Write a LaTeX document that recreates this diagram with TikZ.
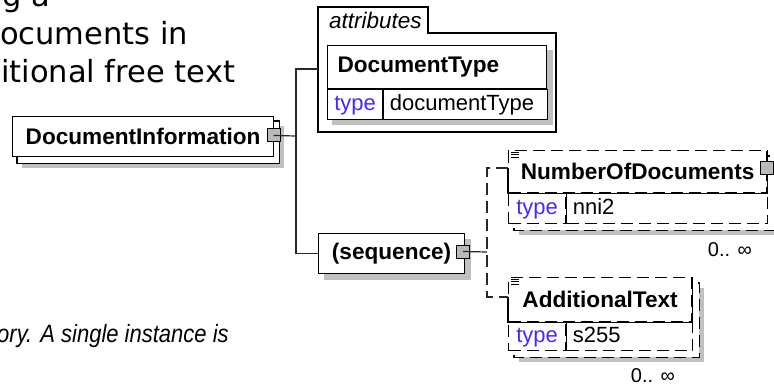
\documentclass[tikz,border=0pt]{standalone}
\usepackage{fontspec}
\setmainfont{Liberation Sans}
\newfontfamily\prosefamily{DejaVu Sans}
\usetikzlibrary{positioning,backgrounds,calc}

\definecolor{typeblue}{RGB}{70,40,255}
\definecolor{shadegray}{RGB}{192,192,192}
\definecolor{linegray}{RGB}{40,40,40}

\begin{document}
\begin{tikzpicture}[x=1pt,y=-1pt,
  box/.style={draw, fill=white, line width=1.2pt, inner sep=0pt, anchor=north west},
  optbox/.style={box, dash pattern=on 12pt off 6pt},
  toggle/.style={draw, fill=gray!55, line width=1pt, minimum size=13pt, inner sep=0pt},
  conn/.style={draw=linegray, line width=1.2pt},
  optconn/.style={conn, dash pattern=on 12pt off 6pt},
  solid edge/.style={line width=1.2pt},
  elemfont/.style={font=\bfseries\fontsize{22.6}{26}\selectfont},
  cellfont/.style={font=\fontsize{22}{26}\selectfont, text height=16pt, text depth=5pt, align=left},
  multfont/.style={font=\fontsize{20}{24}\selectfont, anchor=east, inner sep=0pt},
  prose/.style={font=\prosefamily\fontsize{30.5}{38}\selectfont, anchor=base west, inner sep=0pt}
]
  \useasboundingbox (0,0) rectangle (774,385);
  \clip (0,0) rectangle (774,385);

  % text of the page round the diagram
  \node[prose] (prose1) at (2,7) {g a};
  \node[prose] (prose2) at (0,45) {ocuments in};
  \node[prose] (prose3) at (1,83) {itional free text};
  \node[font=\itshape\fontsize{25}{30}\selectfont, anchor=base west, inner sep=0pt] (prose4) at (-3,342)
    {\scalebox{0.88}[1]{ory. A single instance is}};

  % root element
  \node[box, elemfont, minimum width=261pt, minimum height=40pt] (docinfo) at (12,116) {DocumentInformation};
  \node[toggle] (dicon) at (273.5,135.5) {};
  \begin{scope}[on background layer]
    \fill[shadegray] ($(docinfo.north west)+(10,10)$) rectangle ($(docinfo.south east)+(10,11)$);
    \draw[line width=1.2pt, fill=white] ($(docinfo.north west)+(5,5)$) rectangle ($(docinfo.south east)+(5,6)$);
  \end{scope}

  % attributes group
  \draw[solid edge] (318,132) -- (318,7) -- (428,7) -- (428,33) -- (556,33) -- (556,132) -- cycle;
  \node[font=\itshape\fontsize{22.5}{26}\selectfont, anchor=base west, inner sep=0pt] (attrlbl) at (329,29) {attributes};
  \coordinate (attrin) at (318,69);

  \node[box, elemfont, minimum height=43pt, text width=199pt, inner xsep=10pt, align=left] (doctype) at (327,45) {DocumentType};
  \node[box, cellfont, text=typeblue, minimum width=55pt, minimum height=30pt] (dttype) at (doctype.south west) {type};
  \node[box, cellfont, minimum height=30pt, text width=152pt, inner xsep=6pt] (dtvalue) at (dttype.north east) {documentType};
  \begin{scope}[on background layer]
    \fill[shadegray] ($(doctype.north west)+(5,5)$) rectangle ($(dtvalue.south east)+(5,5)$);
  \end{scope}

  % sequence
  \node[box, elemfont, minimum width=146pt, minimum height=40pt] (seq) at (318,233) {(sequence)};
  \node[toggle] (seqicon) at (463,251.5) {};
  \begin{scope}[on background layer]
    \fill[shadegray] ($(seq.north west)+(6,6)$) rectangle ($(seq.south east)+(6,6)$);
  \end{scope}

  % NumberOfDocuments
  \node[optbox, elemfont, minimum width=258pt, minimum height=42pt] (numdocs) at (508,150) {NumberOfDocuments};
  \node[optbox, cellfont, text=typeblue, minimum width=57pt, minimum height=30pt] (ndtype) at (numdocs.south west) {type};
  \node[optbox, cellfont, minimum height=30pt, text width=189pt, inner xsep=6pt] (ndvalue) at (ndtype.north east) {nni2};
  \begin{scope}[on background layer]
    \fill[shadegray] ($(numdocs.north west)+(11,11)$) rectangle ($(ndvalue.south east)+(11,11)$);
    \draw[line width=1.2pt, fill=white, dash pattern=on 12pt off 6pt] ($(numdocs.north west)+(6,6)$) rectangle ($(ndvalue.south east)+(6,6)$);
  \end{scope}
  \coordinate (nodin) at (508,168);
  \draw[solid edge] (nodin) -- (numdocs.south west) -- (numdocs.south east) -- (numdocs.north east);
  \draw[solid edge] (ndtype.north east) -- (ndtype.south east);
  \foreach \dy in {0,2.5,5}
    \draw[line width=0.7pt] ($(numdocs.north west)+(3,2+\dy)$) -- +(8,0);
  \node[toggle] (ndicon) at (766.5,168.5) {};
  \node[multfont] (ndmult) at (752,250) {0.. ∞};

  % AdditionalText
  \node[optbox, elemfont, minimum width=183pt, minimum height=44pt] (addtext) at (508,277) {AdditionalText};
  \node[optbox, cellfont, text=typeblue, minimum width=57pt, minimum height=28pt] (attype) at (addtext.south west) {type};
  \node[optbox, cellfont, minimum height=28pt, text width=114pt, inner xsep=6pt] (atvalue) at (attype.north east) {s255};
  \begin{scope}[on background layer]
    \fill[shadegray] ($(addtext.north west)+(11,11)$) rectangle ($(atvalue.south east)+(11,11)$);
    \draw[line width=1.2pt, fill=white, dash pattern=on 12pt off 6pt] ($(addtext.north west)+(6,6)$) rectangle ($(atvalue.south east)+(6,6)$);
  \end{scope}
  \coordinate (atin) at (508,297);
  \draw[solid edge] (atin) -- (addtext.south west) -- (addtext.south east) -- (addtext.north east);
  \draw[solid edge] (attype.north east) -- (attype.south east);
  \foreach \dy in {0,2.5,5}
    \draw[line width=0.7pt] ($(addtext.north west)+(3,2+\dy)$) -- +(8,0);
  \node[multfont] (atmult) at (675,376) {0.. ∞};

  % connectors
  \coordinate (fork) at (296,136);
  \draw[conn] (dicon.center) -- (fork);
  \draw[conn] (attrin) -| (fork) |- (seq.west);
  \coordinate (seqfork) at (487,252);
  \draw[conn] (seqicon.center) -- (seqfork);
  \draw[optconn] (nodin) -| (seqfork) |- (atin);
\end{tikzpicture}
\end{document}
